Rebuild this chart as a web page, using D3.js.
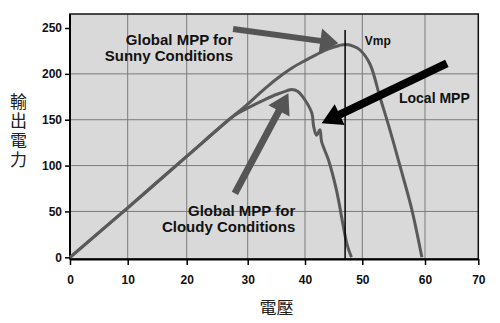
<!DOCTYPE html>
<html><head><meta charset="utf-8">
<script src="https://cdn.jsdelivr.net/npm/d3@7"></script>
<style>
html,body{margin:0;padding:0;background:#fff;}
svg{display:block;}
text{font-family:"Liberation Sans",Arial,Helvetica,sans-serif;font-weight:bold;fill:#111;}
.cjk{font-family:"Noto Sans CJK TC","Noto Sans CJK SC",sans-serif;font-weight:400;fill:#222;}
</style></head>
<body><svg id="c" width="500" height="323"></svg>
<script>
// ---- data ----
const xTicks = [0,10,20,30,40,50,60,70];
const yTicks = [0,50,100,150,200,250];
const yGrid = [50,100,150,200];
const sunnyV = [0,10,20,27,30,33,36,38,40,42,44,46,47.2,48.5,49.6,51.2,52.8,54.4,56.2,57.9,59.5];
const sunnyP = [0,54,110,150.5,167,184,199,207.5,214.5,221,227,231,232,230,226,211,175,139,95,52,0];
const cloudyV = [0,10,20,27,28,29.5,31,33,35,36.8,37.7,38.7,40,41.2,41.5,42,42.6,42.9,44.1,45.5,47.3,48.1];
const cloudyP = [0,54,110,150.5,155.5,161,166,172,177.5,181.5,183,181,171.5,157,143,133,139,126,106,73,15,0];
const vmp = 47.0;
const xLabel = "電壓";
const yLabel = "輸出電力";
const annotations = [
  {lines:["Global MPP for","Sunny Conditions"], v:27.6, p:231, anchor:"end", size:15},
  {lines:["Global MPP for","Cloudy Conditions"], v:38.3, p:45, anchor:"end", size:15},
  {lines:["Local MPP"], v:55.85, p:168.6, anchor:"start", size:14},
  {lines:["Vmp"], v:50.4, p:231.5, anchor:"start", size:12}
];
const arrows = [
  {from:[27.6,248.9], to:[45.8,233.3], color:"#555", w:6, L:18, h:12.5},
  {from:[27.9,69.8], to:[37.1,178.8], color:"#555", w:7, L:20, h:12},
  {from:[64.1,211.5], to:[42.9,146.1], color:"#000", w:8, L:20, h:11.5}
];

// ---- layout ----
const plot = {left:70, right:478.3, top:14, bottom:259};
const svg = d3.select("#c");
const x = d3.scaleLinear().domain(xTicks).range([70,127.7,186.7,247.7,305,362.3,425,478.3]);
const y = d3.scaleLinear().domain([0,250]).range([257.3,28]);

svg.append("rect").attr("x",plot.left).attr("y",plot.top)
  .attr("width",plot.right-plot.left).attr("height",plot.bottom-plot.top)
  .attr("fill","#d9d9d9");

// grid
svg.append("g").selectAll("line").data(xTicks.filter(d=>d>0&&d<70)).join("line")
  .attr("x1",d=>x(d)).attr("x2",d=>x(d)).attr("y1",plot.top).attr("y2",plot.bottom)
  .attr("stroke","#7a7a7a").attr("stroke-width",1);
svg.append("g").selectAll("line").data(yGrid).join("line")
  .attr("x1",plot.left).attr("x2",plot.right).attr("y1",d=>y(d)).attr("y2",d=>y(d))
  .attr("stroke","#7a7a7a").attr("stroke-width",1);

// border
svg.append("rect").attr("x",plot.left).attr("y",plot.top)
  .attr("width",plot.right-plot.left).attr("height",plot.bottom-plot.top)
  .attr("fill","none").attr("stroke","#111").attr("stroke-width",1.5);

// axes
const xAxis = d3.axisBottom(x).tickValues(xTicks).tickSize(6).tickPadding(10).tickSizeOuter(0);
const gx = svg.append("g").attr("transform",`translate(0,${plot.bottom})`).call(xAxis);
gx.select(".domain").attr("stroke","#000").attr("stroke-width",2);
gx.selectAll(".tick line").attr("stroke","#000").attr("stroke-width",1.5);
gx.selectAll(".tick text").attr("font-size",12).attr("font-family",null).attr("fill","#111");

const yAxis = d3.axisLeft(y).tickValues(yTicks).tickSize(5).tickPadding(3).tickSizeOuter(0);
const gy = svg.append("g").attr("transform",`translate(${plot.left},0)`).call(yAxis);
gy.select(".domain").remove();
gy.append("line").attr("x1",0).attr("x2",0).attr("y1",plot.top).attr("y2",plot.bottom)
  .attr("stroke","#000").attr("stroke-width",2);
gy.selectAll(".tick line").attr("stroke","#000").attr("stroke-width",1.5);
gy.selectAll(".tick text").attr("font-size",12).attr("font-family",null).attr("fill","#111");

// curves
const line = d3.line().x(d=>x(d[0])).y(d=>y(d[1])).curve(d3.curveCatmullRom.alpha(0.5));
svg.append("path").datum(sunnyV.map((v,i)=>[v,sunnyP[i]])).attr("d",line)
  .attr("fill","none").attr("stroke","#5a5a5a").attr("stroke-width",3).attr("stroke-linejoin","round");
svg.append("path").datum(cloudyV.map((v,i)=>[v,cloudyP[i]])).attr("d",line)
  .attr("fill","none").attr("stroke","#5a5a5a").attr("stroke-width",3).attr("stroke-linejoin","round");

// Vmp line
svg.append("line").attr("x1",x(vmp)).attr("x2",x(vmp)).attr("y1",y(247.8)).attr("y2",plot.bottom)
  .attr("stroke","#000").attr("stroke-width",1.5);

// arrows
arrows.forEach(a=>{
  const x0=x(a.from[0]), y0=y(a.from[1]), x1=x(a.to[0]), y1=y(a.to[1]);
  const dx=x1-x0, dy=y1-y0, len=Math.hypot(dx,dy), ux=dx/len, uy=dy/len, nx=-uy, ny=ux;
  const bx=x1-ux*a.L, by=y1-uy*a.L;
  const pts=[[x0+nx*a.w/2,y0+ny*a.w/2],[bx+nx*a.w/2,by+ny*a.w/2],[bx+nx*a.h,by+ny*a.h],[x1,y1],
    [bx-nx*a.h,by-ny*a.h],[bx-nx*a.w/2,by-ny*a.w/2],[x0-nx*a.w/2,y0-ny*a.w/2]];
  svg.append("polygon").attr("points",pts.map(p=>p.join(",")).join(" ")).attr("fill",a.color);
});

// annotations
annotations.forEach(a=>{
  const t=svg.append("text").attr("x",x(a.v)).attr("y",y(a.p)).attr("text-anchor",a.anchor)
    .attr("font-size",a.size);
  a.lines.forEach((l,i)=>t.append("tspan").attr("x",x(a.v)).attr("dy",i?15.7:0).text(l));
});

// axis titles
svg.append("text").attr("class","cjk").attr("x",276.5).attr("y",314)
  .attr("font-size",17).attr("text-anchor","middle").text(xLabel);
svg.append("text").attr("class","cjk").attr("font-size",17)
  .attr("x",18.5).attr("y",93)
  .style("writing-mode","vertical-rl").style("text-orientation","upright")
  .style("letter-spacing","2.3px")
  .text(yLabel);
</script></body></html>
